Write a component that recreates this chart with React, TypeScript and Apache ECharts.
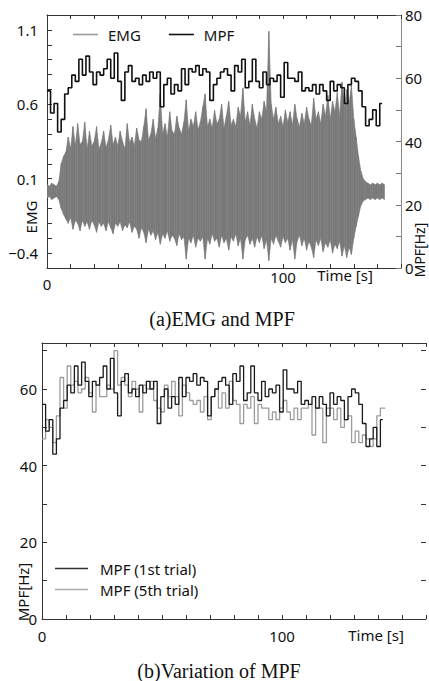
import React, { useEffect, useRef } from "react";
import * as echarts from "echarts";

// EMG envelope, one value per second (t = 0..143 s)
const EMG_UP = [
  0.06, 0.05, 0.07, 0.06, 0.05, 0.08,
  0.2, 0.25, 0.28, 0.38, 0.3, 0.45, 0.32, 0.47, 0.33, 0.35,
  0.48, 0.3, 0.42, 0.32, 0.35, 0.45, 0.3, 0.34, 0.42, 0.31,
  0.36, 0.46, 0.33, 0.38, 0.32, 0.42, 0.35, 0.3, 0.47, 0.34,
  0.38, 0.32, 0.44, 0.36, 0.35, 0.45, 0.57, 0.36, 0.4, 0.5,
  0.37, 0.44, 0.67, 0.4, 0.47, 0.38, 0.55, 0.42, 0.4, 0.52,
  0.44, 0.4, 0.48, 0.63, 0.42, 0.5, 0.45, 0.55, 0.43, 0.48,
  0.58, 0.67, 0.45, 0.5, 0.44, 0.56, 0.47, 0.5, 0.6, 0.44,
  0.52, 0.62, 0.46, 0.5, 0.45, 0.58, 0.52, 0.71, 0.48, 0.55,
  0.46, 0.6, 0.5, 0.44, 0.55, 0.5, 0.62, 0.55, 1.09, 0.6,
  0.5, 0.58, 0.47, 0.52, 0.45, 0.56, 0.48, 0.55, 0.46, 0.6,
  0.5, 0.45, 0.54, 0.47, 0.58, 0.5, 0.46, 0.64, 0.5, 0.55,
  0.47, 0.6, 0.52, 0.66, 0.5, 0.62, 0.55, 0.68, 0.52, 0.75,
  0.58, 0.7, 0.6, 0.73, 0.5, 0.38, 0.25, 0.15, 0.1, 0.08,
  0.07, 0.06, 0.07, 0.06, 0.07, 0.06, 0.07, 0.06,
];
const EMG_LO = [
  -0.03, -0.02, -0.04, -0.03, -0.02, -0.04,
  -0.1, -0.14, -0.17, -0.2, -0.16, -0.24, -0.18, -0.2, -0.25, -0.18,
  -0.22, -0.19, -0.24, -0.18, -0.21, -0.26, -0.19, -0.22, -0.2, -0.25,
  -0.19, -0.23, -0.27, -0.2, -0.22, -0.19, -0.25, -0.21, -0.23, -0.19,
  -0.26, -0.22, -0.24, -0.3, -0.23, -0.26, -0.33, -0.24, -0.28, -0.25,
  -0.31, -0.26, -0.34, -0.27, -0.3, -0.25, -0.32, -0.28, -0.3, -0.35,
  -0.27, -0.31, -0.29, -0.44, -0.3, -0.33, -0.28, -0.36, -0.3, -0.32,
  -0.29, -0.44, -0.3, -0.34, -0.27, -0.32, -0.3, -0.36, -0.28, -0.33,
  -0.3, -0.38, -0.29, -0.32, -0.27, -0.35, -0.3, -0.44, -0.31, -0.28,
  -0.34, -0.3, -0.36, -0.29, -0.33, -0.28, -0.37, -0.31, -0.45, -0.3,
  -0.34, -0.28, -0.32, -0.36, -0.29, -0.33, -0.3, -0.38, -0.31, -0.44,
  -0.32, -0.28, -0.35, -0.3, -0.38, -0.32, -0.36, -0.43, -0.31, -0.35,
  -0.3, -0.39, -0.33, -0.36, -0.31, -0.4, -0.34, -0.37, -0.32, -0.42,
  -0.35, -0.43, -0.36, -0.41, -0.3, -0.22, -0.15, -0.08, -0.05, -0.04,
  -0.03, -0.04, -0.03, -0.04, -0.03, -0.04, -0.03, -0.04,
];
const EMG_STEP = 1; // s

// MPF [Hz], one value per 1.5 s window
const MPF_1ST = [
  56, 49, 52, 43, 47, 55, 57, 61, 59, 66,
  61, 67, 62, 58, 62, 61, 63, 66, 60, 68,
  59, 53, 62, 64, 59, 60, 58, 61, 59, 62,
  60, 62, 51, 58, 60, 55, 58, 56, 63, 58,
  63, 62, 64, 61, 63, 62, 53, 58, 60, 62,
  63, 61, 56, 64, 62, 66, 57, 59, 66, 59,
  57, 62, 58, 60, 59, 61, 54, 65, 60, 60,
  59, 62, 56, 57, 56, 58, 55, 58, 56, 53,
  59, 56, 58, 57, 52, 58, 60, 59, 56, 51,
  45, 47, 50, 45, 52,
];
const MPF_5TH = [
  47, 52, 50, 46, 53, 63, 55, 66, 61, 62,
  59, 60, 63, 59, 54, 61, 58, 58, 61, 60,
  70, 61, 63, 61, 58, 62, 60, 54, 61, 60,
  62, 57, 55, 54, 61, 58, 62, 58, 53, 61,
  59, 57, 56, 57, 54, 58, 52, 58, 60, 55,
  59, 55, 62, 57, 56, 51, 56, 55, 58, 51,
  56, 55, 55, 52, 54, 52, 55, 57, 54, 52,
  55, 52, 55, 55, 56, 48, 55, 55, 46, 55,
  55, 52, 55, 50, 52, 53, 46, 49, 46, 48,
  47, 45, 47, 53, 55,
];
const MPF_STEP = 1.5; // s
const MPF_1ST_END = 142;
const MPF_5TH_END = 143;

const X_LABELS = [0, 100];
const EMG_TICK_LABELS = [-0.4, 0.1, 0.6, 1.1];
const MPF_LABELS_A = [0, 20, 40, 60, 80];
const MPF_LABELS_B = [0, 20, 40, 60];

const FONT = "Noto Sans";
const SERIF = "Liberation Serif";
const EMG_GRAY = "#7a7a7a";

function stepSeries(vals: number[], step: number, end: number) {
  const d: number[][] = vals.map((v, i) => [i * step, v]);
  d.push([end, vals[vals.length - 1]]);
  return d;
}
// each item: [t, upper, lower, tNext, upperNext, lowerNext]
function emgSegments() {
  const d: number[][] = [];
  for (let i = 0; i < EMG_UP.length - 1; i++) {
    d.push([i * EMG_STEP, EMG_UP[i], EMG_LO[i], (i + 1) * EMG_STEP, EMG_UP[i + 1], EMG_LO[i + 1]]);
  }
  return d;
}

function txt(text: string, x: number, y: number, size: number, family: string, rotation = 0) {
  return {
    type: "text",
    x,
    y,
    rotation,
    silent: true,
    style: {
      text,
      fontSize: size,
      fontFamily: family,
      fill: "#111",
      align: "center",
      verticalAlign: "middle",
      textAlign: "center",
      textVerticalAlign: "middle",
    },
  };
}

export default function App() {
  const ref = useRef<HTMLDivElement>(null);
  useEffect(() => {
    if (!ref.current) return;
    const chart = echarts.init(ref.current, undefined, { renderer: "svg" });
    const dark = "#333";
    const labelStyle = { fontFamily: FONT, fontSize: 15, color: "#111" };
    const xAxisBase = (grid: number, max: number, bottom: boolean, margin: number) => ({
      gridIndex: grid,
      type: "value",
      min: 0,
      max,
      interval: 10,
      position: bottom ? "bottom" : "top",
      axisLine: { show: true, onZero: false, lineStyle: { color: dark, width: 1 } },
      axisTick: { show: true, inside: true, length: 4, lineStyle: { color: dark } },
      splitLine: { show: false },
      axisLabel: bottom
        ? {
            show: true,
            margin,
            ...labelStyle,
            formatter: (v: number) =>
              X_LABELS.includes(v) ? (v === 0 && grid === 0 ? "{z|0}" : String(v)) : "",
            rich: { z: { ...labelStyle, padding: [7, 0, 0, 0] } },
          }
        : { show: false },
    });
    const option: any = {
      animation: false,
      backgroundColor: "#fff",
      grid: [
        { left: 47, top: 15, width: 354, height: 253 },
        { left: 42, top: 343, width: 386, height: 276 },
      ],
      xAxis: [
        xAxisBase(0, 150, true, 1),
        xAxisBase(0, 150, false, 0),
        xAxisBase(1, 160, true, 9),
        xAxisBase(1, 160, false, 0),
      ],
      yAxis: [
        {
          gridIndex: 0,
          type: "value",
          min: -0.5,
          max: 1.2,
          interval: 0.1,
          position: "left",
          axisLine: { show: true, onZero: false, lineStyle: { color: dark } },
          axisTick: { show: true, inside: true, length: 5, lineStyle: { color: dark } },
          splitLine: { show: false },
          axisLabel: {
            margin: 9,
            ...labelStyle,
            formatter: (v: number) => {
              const r = Math.round(v * 10) / 10;
              if (!EMG_TICK_LABELS.includes(r)) return "";
              return r < 0 ? "\u2212" + Math.abs(r) : String(r);
            },
          },
        },
        {
          gridIndex: 0,
          type: "value",
          min: 0,
          max: 80,
          interval: 10,
          position: "right",
          axisLine: { show: true, onZero: false, lineStyle: { color: "#888" } },
          axisTick: { show: true, inside: true, length: 5, lineStyle: { color: "#777" } },
          splitLine: { show: false },
          axisLabel: {
            margin: 4,
            ...labelStyle,
            formatter: (v: number) => (MPF_LABELS_A.includes(v) ? String(v) : ""),
          },
        },
        {
          gridIndex: 1,
          type: "value",
          min: 0,
          max: 72,
          interval: 10,
          position: "left",
          axisLine: { show: true, onZero: false, lineStyle: { color: dark } },
          axisTick: { show: true, inside: true, length: 5, lineStyle: { color: dark } },
          splitLine: { show: false },
          axisLabel: {
            margin: 5,
            ...labelStyle,
            formatter: (v: number) => (MPF_LABELS_B.includes(v) ? String(v) : ""),
          },
        },
        {
          gridIndex: 1,
          type: "value",
          min: 0,
          max: 72,
          interval: 10,
          position: "right",
          axisLine: { show: false, onZero: false },
          axisTick: { show: true, inside: true, length: 5, lineStyle: { color: dark } },
          splitLine: { show: false },
          axisLabel: { show: false },
        },
      ],
      legend: [
        {
          data: [
            { name: "EMG", itemStyle: { color: "#9a9a9a" } },
            { name: "MPF", itemStyle: { color: "#111" } },
          ],
          left: 68,
          top: 22,
          icon: "rect",
          itemWidth: 25,
          itemHeight: 1.6,
          itemGap: 28,
          textStyle: { ...labelStyle, padding: [0, 0, 0, 5] },
        },
        {
          data: [
            { name: "MPF (1st trial)", itemStyle: { color: "#333" } },
            { name: "MPF (5th trial)", itemStyle: { color: "#aaa" } },
          ],
          orient: "vertical",
          left: 50,
          top: 556,
          icon: "rect",
          itemWidth: 33,
          itemHeight: 1.6,
          itemGap: 6,
          textStyle: { ...labelStyle, padding: [0, 0, 0, 7] },
        },
      ],
      series: [
        {
          name: "EMG",
          type: "custom",
          xAxisIndex: 0,
          yAxisIndex: 0,
          data: emgSegments(),
          encode: { x: [0, 3], y: [1, 2, 4, 5] },
          clip: true,
          itemStyle: { color: "#9a9a9a" },
          renderItem: (_params: any, api: any) => {
            const pts = [
              api.coord([api.value(0), api.value(1)]),
              api.coord([api.value(3), api.value(4)]),
              api.coord([api.value(3), api.value(5)]),
              api.coord([api.value(0), api.value(2)]),
            ];
            return {
              type: "polygon",
              shape: { points: pts },
              style: { fill: EMG_GRAY, stroke: EMG_GRAY, lineWidth: 0.6 },
            };
          },
          z: 2,
        },
        {
          name: "MPF",
          type: "line",
          step: "end",
          xAxisIndex: 0,
          yAxisIndex: 1,
          data: stepSeries(MPF_1ST, MPF_STEP, MPF_1ST_END),
          symbol: "none",
          lineStyle: { color: "#111", width: 1.6 },
          itemStyle: { color: "#111" },
          z: 3,
        },
        {
          name: "MPF (1st trial)",
          type: "line",
          step: "end",
          xAxisIndex: 2,
          yAxisIndex: 2,
          data: stepSeries(MPF_1ST, MPF_STEP, MPF_1ST_END),
          symbol: "none",
          lineStyle: { color: "#1a1a1a", width: 1.3 },
          itemStyle: { color: "#333" },
          z: 3,
        },
        {
          name: "MPF (5th trial)",
          type: "line",
          step: "end",
          xAxisIndex: 2,
          yAxisIndex: 2,
          data: stepSeries(MPF_5TH, MPF_STEP, MPF_5TH_END),
          symbol: "none",
          lineStyle: { color: "#9c9c9c", width: 1.3 },
          itemStyle: { color: "#aaa" },
          z: 2,
        },
      ],
      graphic: [
        txt("Time [s]", 345, 275, 15, FONT),
        txt("Time [s]", 376, 635, 15, FONT),
        txt("EMG", 31, 217, 15, FONT, Math.PI / 2),
        txt("MPF[Hz]", 419, 250, 14, FONT, Math.PI / 2),
        txt("MPF[Hz]", 23, 592, 15, FONT, Math.PI / 2),
        txt("(a)EMG and MPF", 222, 319, 20, SERIF),
        txt("(b)Variation of MPF", 219, 671, 20, SERIF),
      ],
    };
    chart.setOption(option);
    return () => chart.dispose();
  }, []);
  return (
    <div
      ref={ref}
      style={{ position: "absolute", left: 0, top: 0, width: 429, height: 681, background: "#fff" }}
    />
  );
}
